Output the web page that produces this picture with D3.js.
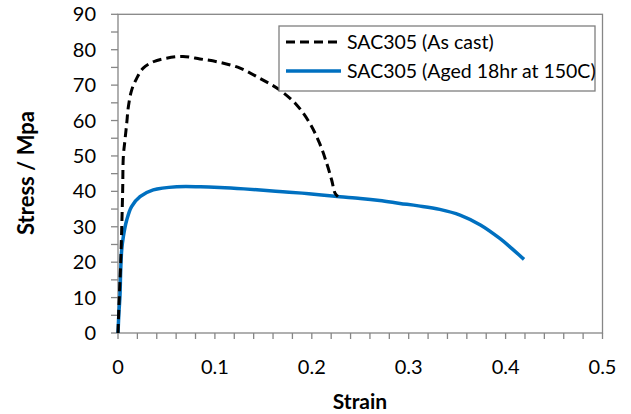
<!DOCTYPE html>
<html>
<head>
<meta charset="utf-8">
<script src="https://cdn.jsdelivr.net/npm/d3@7"></script>
<style>
  body { margin: 0; background: #fff; }
  text { font-family: Lato, "Open Sans", sans-serif; fill: #000; }
</style>
</head>
<body>
<div id="chart"></div>
<script>
// SAC305 as cast (dashed black)
var castStrain = [0, 0.001, 0.0028, 0.0048, 0.0055, 0.0072, 0.009, 0.0107, 0.0141, 0.0193, 0.026, 0.0365, 0.05, 0.067, 0.0846, 0.104, 0.126, 0.1465, 0.167, 0.1844, 0.198, 0.208, 0.2154, 0.2205, 0.224, 0.227];
var castStress = [0, 8, 20, 40, 49.8, 54.5, 59.2, 63.9, 68.6, 71.9, 74.8, 76.6, 77.6, 78.1, 77.4, 76.5, 74.8, 71.9, 68.6, 64.4, 59.2, 53.6, 47.9, 43.2, 39.5, 38.5];

// SAC305 aged 18hr at 150C (solid blue)
var agedStrain = [0, 0.001, 0.002, 0.0028, 0.0038, 0.0055, 0.009, 0.014, 0.0227, 0.0364, 0.0606, 0.085, 0.105, 0.13, 0.15, 0.17, 0.19, 0.21, 0.229, 0.25, 0.27, 0.291, 0.31, 0.332, 0.353, 0.374, 0.394, 0.405, 0.419];
var agedStress = [0, 6, 10.3, 17.8, 23.4, 27.2, 31.9, 35.7, 38.5, 40.4, 41.3, 41.3, 41.1, 40.7, 40.3, 39.9, 39.5, 39.0, 38.5, 38.0, 37.4, 36.6, 35.9, 34.9, 33.3, 30.5, 26.7, 24.2, 20.8];

var xTicks = [0, 0.1, 0.2, 0.3, 0.4, 0.5];
var yTicks = [0, 10, 20, 30, 40, 50, 60, 70, 80, 90];
var seriesNames = ["SAC305 (As cast)", "SAC305 (Aged 18hr at 150C)"];

(function () {
    var width = 631, height = 414;
    // plot box edges (pixels)
    var pL = 118, pR = 602.5, pT = 14.3, pB = 333;
    var axisColor = "#868686";

    var svg = d3.select("#chart").append("svg")
        .attr("width", width)
        .attr("height", height);

    var x = d3.scaleLinear().domain([0, 0.5]).range([pL, pR]);
    var y = d3.scaleLinear().domain([0, 90]).range([pB, pT]);

    // frame
    svg.append("rect")
        .attr("x", pL).attr("y", pT)
        .attr("width", pR - pL).attr("height", pB - pT)
        .attr("fill", "none").attr("stroke", axisColor).attr("stroke-width", 1.3);

    // ticks (every 0.02 on x, every 5 on y)
    var xMinor = d3.range(0, 26).map(function (i) { return i * 0.02; });
    var yMinor = d3.range(0, 19).map(function (i) { return i * 5; });

    svg.append("g").selectAll("line").data(xMinor).enter().append("line")
        .attr("x1", function (d) { return x(d); }).attr("x2", function (d) { return x(d); })
        .attr("y1", pB).attr("y2", pB + 6)
        .attr("stroke", axisColor).attr("stroke-width", 1.3);

    svg.append("g").selectAll("line").data(yMinor).enter().append("line")
        .attr("y1", function (d) { return y(d); }).attr("y2", function (d) { return y(d); })
        .attr("x1", pL - 7).attr("x2", pL)
        .attr("stroke", axisColor).attr("stroke-width", 1.3);

    // tick labels
    svg.append("g").selectAll("text").data(xTicks).enter().append("text")
        .attr("x", function (d) { return x(d); })
        .attr("y", 374)
        .attr("text-anchor", "middle")
        .style("font-size", "20px")
        .text(function (d) { return d === 0 ? "0" : d3.format(".1f")(d); });

    svg.append("g").selectAll("text").data(yTicks).enter().append("text")
        .attr("x", 96)
        .attr("y", function (d) { return y(d) + 7; })
        .attr("text-anchor", "end")
        .style("font-size", "20px")
        .text(function (d) { return d; });

    // axis titles
    svg.append("text")
        .attr("x", 360).attr("y", 409)
        .attr("text-anchor", "middle")
        .style("font-size", "21px").style("font-weight", "bold")
        .text("Strain");

    svg.append("text")
        .attr("transform", "translate(34,173) rotate(-90)")
        .attr("text-anchor", "middle")
        .style("font-size", "22px").style("font-weight", "bold")
        .text("Stress / Mpa");

    // curves
    var line = d3.line()
        .x(function (d) { return x(d[0]); })
        .y(function (d) { return y(d[1]); })
        .curve(d3.curveCatmullRom.alpha(0.5));

    svg.append("path")
        .datum(d3.zip(agedStrain, agedStress))
        .attr("d", line)
        .attr("fill", "none")
        .attr("stroke", "#0070C0")
        .attr("stroke-width", 3.5);

    svg.append("path")
        .datum(d3.zip(castStrain, castStress))
        .attr("d", line)
        .attr("fill", "none")
        .attr("stroke", "#000")
        .attr("stroke-width", 3)
        .attr("stroke-dasharray", "9,5");

    // legend
    var lg = svg.append("g");
    lg.append("rect")
        .attr("x", 279).attr("y", 26)
        .attr("width", 316).attr("height", 65)
        .attr("fill", "#fff").attr("stroke", "#7f7f7f").attr("stroke-width", 1.3);

    var rows = [
        { name: seriesNames[0], color: "#000", dash: "9,5", w: 3, yy: 42 },
        { name: seriesNames[1], color: "#0070C0", dash: null, w: 3.5, yy: 71 }
    ];
    rows.forEach(function (r) {
        lg.append("line")
            .attr("x1", 286).attr("x2", 341)
            .attr("y1", r.yy).attr("y2", r.yy)
            .attr("stroke", r.color).attr("stroke-width", r.w)
            .attr("stroke-dasharray", r.dash);
        lg.append("text")
            .attr("x", 347).attr("y", r.yy + 7)
            .style("font-size", "19.5px")
            .text(r.name);
    });
})();
</script>
</body>
</html>
